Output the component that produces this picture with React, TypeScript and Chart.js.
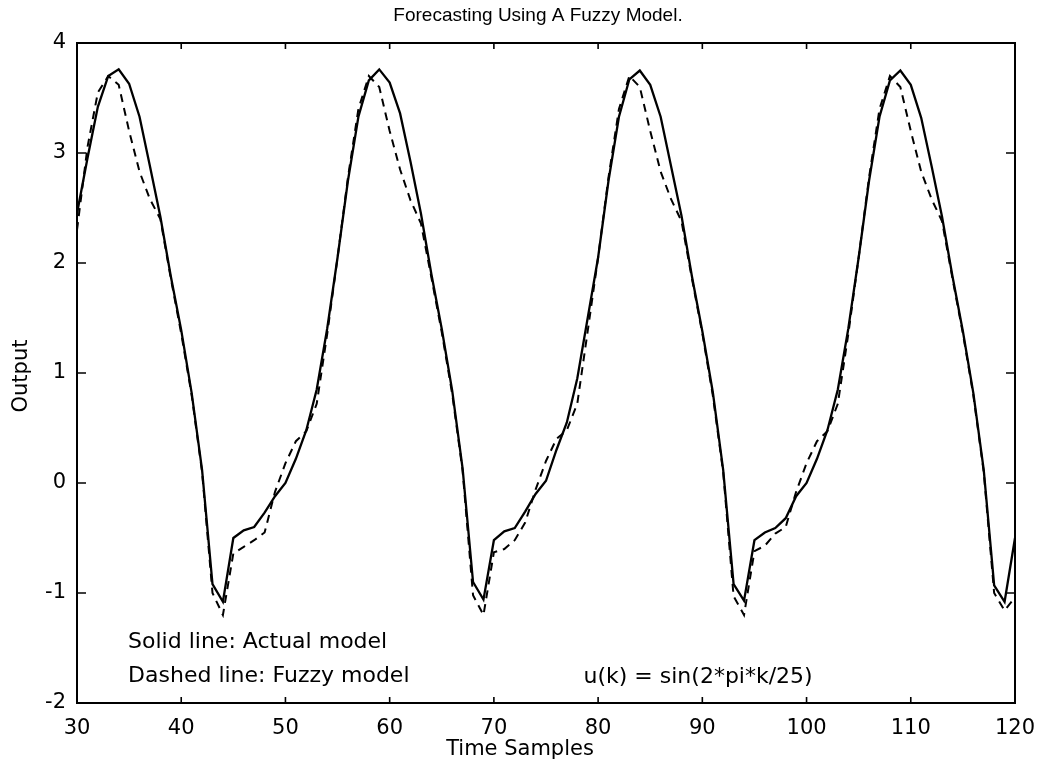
import React, { useEffect, useRef } from "react";
import { Chart, registerables } from "chart.js";

Chart.register(...registerables);

// ---------- data ----------
const samples = [
  30, 31, 32, 33, 34, 35, 36, 37, 38, 39,
  40, 41, 42, 43, 44, 45, 46, 47, 48, 49,
  50, 51, 52, 53, 54, 55, 56, 57, 58, 59,
  60, 61, 62, 63, 64, 65, 66, 67, 68, 69,
  70, 71, 72, 73, 74, 75, 76, 77, 78, 79,
  80, 81, 82, 83, 84, 85, 86, 87, 88, 89,
  90, 91, 92, 93, 94, 95, 96, 97, 98, 99,
  100, 101, 102, 103, 104, 105, 106, 107, 108, 109,
  110, 111, 112, 113, 114, 115, 116, 117, 118, 119,
  120,
];

// Solid line: actual model output
const actualOutput = [
  2.45, 2.95, 3.42, 3.7, 3.76, 3.63, 3.33, 2.88, 2.42, 1.88,
  1.39, 0.82, 0.12, -0.92, -1.08, -0.5, -0.43, -0.4, -0.27, -0.12,
  0.0, 0.22, 0.48, 0.85, 1.4, 2.05, 2.75, 3.33, 3.66, 3.76,
  3.64, 3.36, 2.92, 2.45, 1.9, 1.4, 0.84, 0.13, -0.9, -1.06,
  -0.52, -0.44, -0.41, -0.26, -0.1, 0.02, 0.3, 0.55, 0.95, 1.5,
  2.05, 2.75, 3.33, 3.67, 3.75, 3.62, 3.33, 2.88, 2.43, 1.88,
  1.38, 0.83, 0.12, -0.92, -1.07, -0.52, -0.45, -0.41, -0.32, -0.12,
  0.0, 0.22, 0.48, 0.85, 1.4, 2.05, 2.75, 3.33, 3.66, 3.75,
  3.62, 3.32, 2.88, 2.42, 1.88, 1.38, 0.82, 0.12, -0.93, -1.08,
  -0.5,
];

// Dashed line: fuzzy model output
const fuzzyOutput = [
  2.3, 3.05, 3.55, 3.7, 3.62, 3.2, 2.83, 2.58, 2.4, 1.86,
  1.36, 0.8, 0.1, -1.0, -1.2, -0.64, -0.58, -0.52, -0.45, -0.08,
  0.18, 0.38, 0.47, 0.72, 1.35, 2.05, 2.78, 3.4, 3.7, 3.6,
  3.2, 2.85, 2.57, 2.36, 1.87, 1.37, 0.81, 0.11, -1.02, -1.2,
  -0.63, -0.6, -0.52, -0.36, -0.06, 0.2, 0.4, 0.48, 0.72, 1.38,
  2.05, 2.78, 3.4, 3.7, 3.6, 3.2, 2.83, 2.58, 2.38, 1.86,
  1.36, 0.8, 0.1, -1.03, -1.2, -0.62, -0.57, -0.46, -0.4, -0.08,
  0.18, 0.38, 0.47, 0.72, 1.35, 2.05, 2.78, 3.4, 3.7, 3.6,
  3.2, 2.83, 2.58, 2.38, 1.86, 1.36, 0.8, 0.1, -1.0, -1.16,
  -1.04,
];

const xTickValues = [30, 40, 50, 60, 70, 80, 90, 100, 110, 120];
const yTickValues = [-2, -1, 0, 1, 2, 3, 4];

const titleText = "Forecasting Using A Fuzzy Model.";
const xAxisLabel = "Time Samples";
const yAxisLabel = "Output";
const noteTexts = [
  "Solid line: Actual model",
  "Dashed line: Fuzzy model",
  "u(k) = sin(2*pi*k/25)",
];
// note anchors in data coordinates (x sample, y output)
const noteX = [34.9, 34.9, 78.6];
const noteY = [-1.5, -1.81, -1.82];

const LABEL_FONT = '"DejaVu Sans", "Liberation Sans", Arial, sans-serif';
const TITLE_FONT = '"Liberation Sans", Arial, sans-serif';

const decorPlugin = {
  id: "matlabDecor",
  afterDatasetsDraw(chart: any) {
    const { ctx, chartArea: a, scales } = chart;
    const xs = scales.x;
    const ys = scales.y;
    ctx.save();
    ctx.strokeStyle = "#000";
    ctx.fillStyle = "#000";
    ctx.lineWidth = 2;
    ctx.strokeRect(a.left, a.top, a.right - a.left, a.bottom - a.top);

    ctx.lineWidth = 1.6;
    ctx.beginPath();
    for (const t of xs.ticks) {
      const p = xs.getPixelForValue(t.value);
      ctx.moveTo(p, a.bottom);
      ctx.lineTo(p, a.bottom - 6);
      ctx.moveTo(p, a.top);
      ctx.lineTo(p, a.top + 6);
    }
    for (const t of ys.ticks) {
      const p = ys.getPixelForValue(t.value);
      ctx.moveTo(a.left, p);
      ctx.lineTo(a.left + 9, p);
      ctx.moveTo(a.right, p);
      ctx.lineTo(a.right - 9, p);
    }
    ctx.stroke();

    // notes
    ctx.font = `22px ${LABEL_FONT}`;
    ctx.textAlign = "left";
    ctx.textBaseline = "alphabetic";
    noteTexts.forEach((txt, i) => {
      ctx.fillText(txt, xs.getPixelForValue(noteX[i]), ys.getPixelForValue(noteY[i]));
    });

    // title
    ctx.font = `19px ${TITLE_FONT}`;
    ctx.textAlign = "center";
    ctx.fillText(titleText, 538, 21);

    // x axis label
    ctx.font = `21px ${LABEL_FONT}`;
    ctx.fillText(xAxisLabel, 520, 755);

    // y axis label
    ctx.translate(22, 376);
    ctx.rotate(-Math.PI / 2);
    ctx.textBaseline = "middle";
    ctx.fillText(yAxisLabel, 0, 0);
    ctx.restore();
  },
};

export default function App() {
  const canvasRef = useRef<HTMLCanvasElement | null>(null);

  useEffect(() => {
    const canvas = canvasRef.current;
    if (!canvas) return;
    const chart = new Chart(canvas, {
      type: "line",
      data: {
        datasets: [
          {
            label: "Actual model",
            data: samples.map((k, i) => ({ x: k, y: actualOutput[i] })),
            borderColor: "#000",
            borderWidth: 2.3,
            pointRadius: 0,
            tension: 0,
            fill: false,
          },
          {
            label: "Fuzzy model",
            data: samples.map((k, i) => ({ x: k, y: fuzzyOutput[i] })),
            borderColor: "#000",
            borderWidth: 2,
            borderDash: [8, 6],
            pointRadius: 0,
            tension: 0,
            fill: false,
          },
        ],
      },
      options: {
        animation: false,
        responsive: false,
        devicePixelRatio: 1,
        layout: { padding: { top: 43, right: 26, left: 0, bottom: 0 } },
        plugins: {
          legend: { display: false },
          tooltip: { enabled: false },
          title: { display: false },
        },
        scales: {
          x: {
            type: "linear",
            min: 30,
            max: 120,
            afterBuildTicks: (s: any) => {
              s.ticks = xTickValues.map((v) => ({ value: v }));
            },
            afterFit: (s: any) => {
              s.height = 60;
              s.paddingLeft = 0;
              s.paddingRight = 0;
            },
            grid: { display: false, drawTicks: false },
            border: { display: false },
            ticks: {
              color: "#000",
              font: { family: LABEL_FONT, size: 21 },
              padding: 13,
              maxRotation: 0,
              autoSkip: false,
            },
          },
          y: {
            type: "linear",
            min: -2,
            max: 4,
            afterBuildTicks: (s: any) => {
              s.ticks = yTickValues.map((v) => ({ value: v }));
            },
            afterFit: (s: any) => {
              s.width = 77;
              s.paddingTop = 0;
              s.paddingBottom = 0;
            },
            grid: { display: false, drawTicks: false },
            border: { display: false },
            ticks: {
              color: "#000",
              font: { family: LABEL_FONT, size: 21 },
              padding: 11,
              autoSkip: false,
            },
          },
        },
      },
      plugins: [decorPlugin],
    } as any);
    return () => chart.destroy();
  }, []);

  return (
    <div style={{ position: "fixed", left: 0, top: 0, width: 1041, height: 763, background: "#fff" }}>
      <canvas ref={canvasRef} width={1041} height={763} style={{ display: "block" }} />
    </div>
  );
}
